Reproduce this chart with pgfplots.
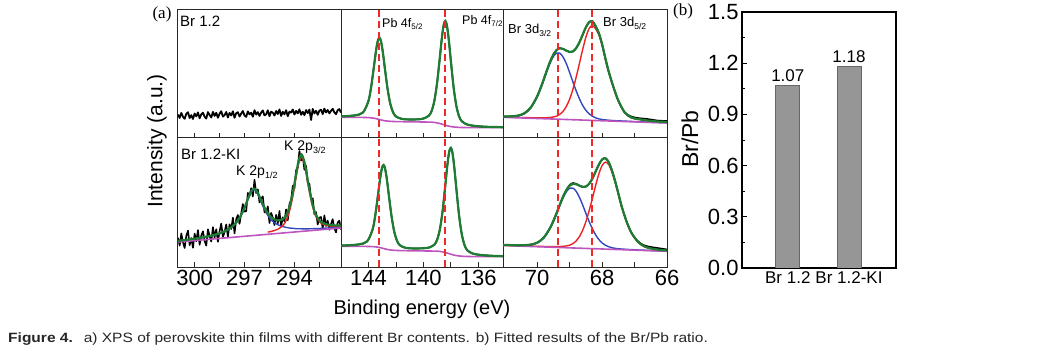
\documentclass[border=0pt]{standalone}
\usepackage{pgfplots}
\pgfplotsset{compat=1.18}
\usepackage{fontspec}
\setmainfont{Liberation Sans}
\newfontfamily\seriffont{Liberation Serif}
\newcommand\fs[1]{\fontsize{#1bp}{#1bp}\selectfont}
\newcommand\sub[2]{\raisebox{-0.45ex}{\fs{#1}#2}}
\definecolor{cgreen}{RGB}{30,125,50}
\definecolor{cred}{RGB}{235,35,35}
\definecolor{cblue}{RGB}{50,70,190}
\definecolor{cpurple}{RGB}{190,85,190}
\definecolor{cdash}{RGB}{240,40,40}
\definecolor{cbar}{RGB}{150,150,150}
\definecolor{cframe}{RGB}{40,40,40}
\pgfplotsset{
 /pgf/number format/assume math mode=true,
 xps/.style={scale only axis, x dir=reverse, ytick=\empty, xtick pos=left, tick align=inside,
   major tick length=5bp, minor tick length=5bp,
   axis line style={line width=1bp, draw=cframe}, tick style={line width=0.8bp, draw=cframe},
   ymin=0, xticklabel style={font=\fs{22}}},
 dat/.style={black, line width=1.6bp, line join=round},
 fit/.style={cgreen, line width=2.2bp, smooth},
 compr/.style={cred, line width=1.4bp, smooth},
 compb/.style={cblue, line width=1.4bp, smooth},
 bg/.style={cpurple, line width=1.6bp, smooth},
 vline/.style={draw=cdash, line width=1.8bp, dash pattern=on 7bp off 4bp},
}
\begin{document}
\begin{tikzpicture}
\useasboundingbox (0,0) rectangle (1043bp,354bp);
% ---------------- K 2p, top
\begin{axis}[xps, at={(178bp,216bp)}, anchor=south west, width=163bp, height=128bp,
  xmin=291.2, xmax=301, ymax=128, xtick={294,297,300}, minor xtick={292.5,295.5,298.5}, xticklabels={}]
\addplot[dat, line width=1.8bp] coordinates {(301.0,23.5)(300.9,20.1)(300.8,25.1)(300.7,21.2)(300.6,19.2)(300.5,24.3)(300.4,25.8)(300.3,19.9)(300.2,22.9)(300.1,19.0)(300.0,24.5)(299.9,21.6)(299.8,25.6)(299.7,19.7)(299.6,23.7)(299.5,25.3)(299.4,21.3)(299.3,19.4)(299.2,25.9)(299.1,23.0)(299.0,20.5)(298.9,26.1)(298.8,22.1)(298.7,25.2)(298.6,20.2)(298.5,24.3)(298.4,26.8)(298.3,21.4)(298.2,22.9)(298.1,26.0)(298.0,20.5)(297.9,25.1)(297.8,22.6)(297.7,26.7)(297.6,20.2)(297.5,24.8)(297.4,25.8)(297.3,21.4)(297.2,24.4)(297.1,27.0)(297.0,22.5)(296.9,21.1)(296.8,26.6)(296.7,23.7)(296.6,25.2)(296.5,21.3)(296.4,27.8)(296.3,23.4)(296.2,25.9)(296.1,22.0)(296.0,25.5)(295.9,27.6)(295.8,22.6)(295.7,23.7)(295.6,27.7)(295.5,21.8)(295.4,26.3)(295.3,25.4)(295.2,22.4)(295.1,27.0)(295.0,24.0)(294.9,28.6)(294.8,22.1)(294.7,26.2)(294.6,23.7)(294.5,27.8)(294.4,21.8)(294.3,26.4)(294.2,25.4)(294.1,28.5)(294.0,23.5)(293.9,27.1)(293.8,24.6)(293.7,28.7)(293.6,23.2)(293.5,26.3)(293.4,22.8)(293.3,27.9)(293.2,24.9)(293.1,28.5)(293.0,18.0)(292.9,29.1)(292.8,24.6)(292.7,27.2)(292.6,23.2)(292.5,27.3)(292.4,28.3)(292.3,23.9)(292.2,29.4)(292.1,25.5)(292.0,28.0)(291.9,24.6)(291.8,27.1)(291.7,29.2)(291.6,25.7)(291.5,23.8)(291.4,27.8)(291.3,28.9)(291.2,25.4)};
\end{axis}
% ---------------- K 2p, bottom
\begin{axis}[xps, at={(178bp,87bp)}, anchor=south west, width=163bp, height=129bp,
  xmin=291.2, xmax=301, ymax=129, xtick={294,297,300}, minor xtick={292.5,295.5,298.5}]
\addplot[dat] coordinates {(301.0,29.2)(300.9,21.4)(300.8,33.6)(300.7,24.8)(300.6,19.0)(300.5,31.2)(300.4,36.4)(300.3,21.8)(300.2,29.0)(300.1,19.2)(300.0,33.4)(299.9,25.7)(299.8,36.9)(299.7,22.2)(299.6,31.4)(299.5,35.7)(299.4,26.0)(299.3,21.4)(299.2,37.7)(299.1,31.1)(299.0,25.4)(298.9,39.9)(298.8,29.3)(298.7,37.8)(298.6,25.2)(298.5,35.7)(298.4,43.4)(298.3,30.0)(298.2,34.9)(298.1,42.6)(298.0,30.4)(297.9,42.7)(297.8,38.0)(297.7,49.3)(297.6,33.6)(297.5,47.8)(297.4,52.0)(297.3,43.2)(297.2,53.6)(297.1,63.0)(297.0,55.4)(296.9,55.8)(296.8,74.1)(296.7,71.0)(296.6,78.8)(296.5,70.5)(296.4,87.2)(296.3,73.9)(296.2,77.7)(296.1,64.5)(296.0,68.5)(295.9,70.6)(295.8,54.7)(295.7,54.6)(295.6,60.7)(295.5,43.9)(295.4,54.1)(295.3,49.5)(295.2,41.9)(295.1,52.2)(295.0,43.6)(294.9,56.0)(294.8,40.4)(294.7,49.7)(294.6,45.6)(294.5,57.6)(294.4,46.7)(294.3,62.9)(294.2,67.0)(294.1,81.1)(294.0,78.4)(293.9,96.7)(293.8,99.5)(293.7,116.0)(293.6,106.4)(293.5,110.5)(293.4,97.2)(293.3,101.1)(293.2,84.0)(293.1,83.2)(293.0,68.5)(292.9,68.7)(292.8,52.7)(292.7,54.8)(292.6,42.5)(292.5,49.4)(292.4,50.0)(292.3,38.4)(292.2,51.7)(292.1,41.0)(292.0,46.4)(291.9,37.2)(291.8,42.9)(291.7,47.8)(291.6,38.6)(291.5,34.6)(291.4,44.5)(291.3,46.4)(291.2,37.4)};
\addplot[compb] coordinates {(301,26.1)(300.5,27.0)(300,28.1)(299.5,29.4)(299,31.0)(298.5,33.3)(298,37.0)(297.6,42.1)(297.3,48.6)(297.0,58.6)(296.8,67.2)(296.6,74.8)(296.44,77.3)(296.3,75.7)(296.1,69.1)(295.9,61.0)(295.6,51.5)(295.3,45.6)(295.0,42.3)(294.7,40.4)(294.5,39.6)(294.3,39.0)(294.1,38.7)(293.9,38.3)(293.58,38.2)(293.1,38.2)(292.7,38.4)(292.4,38.6)(292.0,39.0)(291.6,39.4)(291.2,39.8)};
\addplot[compr] coordinates {(295.6,34.9)(295.3,36.0)(295.0,37.8)(294.7,41.3)(294.5,46.3)(294.3,55.5)(294.1,70.3)(293.9,89.5)(293.75,103.1)(293.58,110.0)(293.4,102.9)(293.25,89.5)(293.1,75.3)(292.9,60.0)(292.7,50.3)(292.4,43.7)(292.0,41.3)(291.6,40.6)(291.2,40.6)};
\addplot[bg] coordinates {(301,25)(291.2,39)};
\addplot[fit] coordinates {(301,26.2)(300.5,27.2)(300,28.4)(299.5,29.7)(299,31.4)(298.5,33.7)(298,37.4)(297.6,42.6)(297.3,49.2)(297.0,59.4)(296.8,68.1)(296.6,75.8)(296.44,78.4)(296.3,76.9)(296.1,70.5)(295.9,62.6)(295.6,53.7)(295.3,48.5)(295.0,46.6)(294.7,47.7)(294.5,51.6)(294.3,59.9)(294.1,74.1)(293.9,92.7)(293.75,106.0)(293.58,112.6)(293.4,105.2)(293.25,91.6)(293.1,77.2)(292.9,61.7)(292.7,51.8)(292.4,45.0)(292.0,42.4)(291.6,41.6)(291.2,41.4)};
\end{axis}
% ---------------- Pb 4f, top
\begin{axis}[xps, at={(341bp,216bp)}, anchor=south west, width=162bp, height=128bp,
  xmin=134.2, xmax=146, ymax=128, xtick={136,140,144}, minor xtick={138,142}, xticklabels={}]
\addplot[bg] coordinates {(146,20.7)(144.2,20.5)(143.6,19.8)(143.2,18.5)(142.8,17.2)(142.2,16.5)(141,16.2)(139.6,15.9)(139.2,15.6)(138.8,14.5)(138.4,12.8)(138.0,11.4)(137.4,10.6)(136.5,10.4)(134.2,10.3)};
\addplot[dat, smooth] coordinates {(146.0,21.6)(145.0,22.6)(144.4,25.5)(144.0,37.1)(143.8,51.4)(143.6,71.6)(143.5,82.2)(143.4,91.6)(143.3,98.1)(143.2,100.3)(143.1,97.5)(143.0,90.2)(142.9,80.2)(142.8,69.1)(142.6,48.4)(142.4,33.7)(142.2,25.5)(142.0,21.6)(141.6,19.2)(141.0,18.5)(140.4,18.7)(140.0,19.4)(139.6,22.3)(139.4,27.0)(139.2,37.1)(139.0,55.2)(138.8,80.6)(138.7,94.1)(138.6,106.0)(138.5,114.3)(138.4,117.1)(138.3,113.5)(138.2,104.3)(138.1,91.7)(138.0,77.4)(137.8,50.9)(137.6,32.2)(137.4,21.7)(137.2,16.7)(136.8,13.4)(136.2,12.0)(135.4,11.2)(134.2,10.8)};
\addplot[fit] coordinates {(146.0,21.6)(145.0,22.6)(144.4,25.5)(144.0,37.1)(143.8,51.4)(143.6,71.6)(143.5,82.2)(143.4,91.6)(143.3,98.1)(143.2,100.3)(143.1,97.5)(143.0,90.2)(142.9,80.2)(142.8,69.1)(142.6,48.4)(142.4,33.7)(142.2,25.5)(142.0,21.6)(141.6,19.2)(141.0,18.5)(140.4,18.7)(140.0,19.4)(139.6,22.3)(139.4,27.0)(139.2,37.1)(139.0,55.2)(138.8,80.6)(138.7,94.1)(138.6,106.0)(138.5,114.3)(138.4,117.1)(138.3,113.5)(138.2,104.3)(138.1,91.7)(138.0,77.4)(137.8,50.9)(137.6,32.2)(137.4,21.7)(137.2,16.7)(136.8,13.4)(136.2,12.0)(135.4,11.2)(134.2,10.8)};
\addplot[vline] coordinates {(138.4,0)(138.4,128)};
\addplot[vline] coordinates {(143.22,0)(143.22,64)(143.22,128)};
\end{axis}
% ---------------- Pb 4f, bottom
\begin{axis}[xps, at={(341bp,87bp)}, anchor=south west, width=162bp, height=129bp,
  xmin=134.2, xmax=146, ymax=129, xtick={136,140,144}, minor xtick={138,142}]
\addplot[bg] coordinates {(146,20.7)(143.9,20.5)(143.3,19.8)(142.9,18.5)(142.5,17.2)(141.9,16.5)(140.7,16.2)(139.2,15.9)(138.8,15.6)(138.4,14.5)(138.0,12.8)(137.6,11.4)(137.0,10.6)(136.1,10.4)(134.2,10.3)};
\addplot[dat, smooth] coordinates {(146.0,21.5)(145.7,21.6)(144.7,22.6)(144.1,25.6)(143.7,37.5)(143.5,52.0)(143.3,72.6)(143.2,83.4)(143.1,93.0)(143.0,99.7)(142.9,102.0)(142.8,99.1)(142.7,91.6)(142.6,81.4)(142.5,70.1)(142.3,49.0)(142.1,34.0)(141.9,25.6)(141.7,21.6)(141.3,19.2)(140.7,18.5)(140.1,18.7)(139.6,19.4)(139.2,22.3)(139.0,27.2)(138.8,37.5)(138.6,56.0)(138.4,82.0)(138.3,95.8)(138.2,108.0)(138.1,116.4)(138.0,119.2)(137.9,115.5)(137.8,106.1)(137.7,93.2)(137.6,78.6)(137.4,51.6)(137.2,32.6)(137.0,21.8)(136.8,16.7)(136.4,13.4)(135.8,12.0)(135.0,11.2)(134.2,10.8)};
\addplot[fit] coordinates {(146.0,21.5)(145.7,21.6)(144.7,22.6)(144.1,25.6)(143.7,37.5)(143.5,52.0)(143.3,72.6)(143.2,83.4)(143.1,93.0)(143.0,99.7)(142.9,102.0)(142.8,99.1)(142.7,91.6)(142.6,81.4)(142.5,70.1)(142.3,49.0)(142.1,34.0)(141.9,25.6)(141.7,21.6)(141.3,19.2)(140.7,18.5)(140.1,18.7)(139.6,19.4)(139.2,22.3)(139.0,27.2)(138.8,37.5)(138.6,56.0)(138.4,82.0)(138.3,95.8)(138.2,108.0)(138.1,116.4)(138.0,119.2)(137.9,115.5)(137.8,106.1)(137.7,93.2)(137.6,78.6)(137.4,51.6)(137.2,32.6)(137.0,21.8)(136.8,16.7)(136.4,13.4)(135.8,12.0)(135.0,11.2)(134.2,10.8)};
\addplot[vline] coordinates {(138.4,0)(138.4,129)};
\addplot[vline] coordinates {(143.22,0)(143.22,64)(143.22,129)};
\end{axis}
% ---------------- Br 3d, top
\begin{axis}[xps, at={(503bp,216bp)}, anchor=south west, width=164bp, height=128bp,
  xmin=66, xmax=71.05, ymax=128, xtick={66,68,70}, minor xtick={67,69}, xticklabels={}]
\addplot[compb] coordinates {(71.05,21.3)(70.8,21.3)(70.6,21.9)(70.4,24.1)(70.2,29.8)(70.0,40.9)(69.85,52.9)(69.7,66.5)(69.6,74.9)(69.5,81.4)(69.4,84.9)(69.3,84.8)(69.2,81.0)(69.1,74.3)(69.0,65.7)(68.9,56.4)(68.8,47.4)(68.7,39.5)(68.6,32.8)(68.5,27.8)(68.4,24.2)(68.3,21.8)(68.2,20.2)(68.1,19.1)(68.0,18.5)(67.9,18.1)(67.8,17.8)(67.65,17.4)(67.5,17.2)(67.3,16.9)(67.1,16.6)(66.9,16.3)(66.6,15.9)(66.3,15.5)(66.0,15.2)};
\addplot[compr] coordinates {(71.05,21.0)(70.8,20.7)(70.6,20.6)(70.4,20.4)(70.2,20.3)(70.0,20.2)(69.85,20.2)(69.7,20.3)(69.6,20.5)(69.5,21.0)(69.4,21.8)(69.3,23.7)(69.2,26.7)(69.1,31.6)(69.0,38.7)(68.9,48.4)(68.8,60.5)(68.7,74.1)(68.6,88.1)(68.5,100.6)(68.4,109.3)(68.3,112.6)(68.2,109.3)(68.1,103.3)(68.0,92.8)(67.9,79.1)(67.8,66.3)(67.65,50.5)(67.5,37.0)(67.3,25.1)(67.1,20.2)(66.9,18.7)(66.6,17.3)(66.3,16.3)(66.0,15.8)};
\addplot[bg] coordinates {(71.05,20.7)(66,15.0)};
\addplot[dat, smooth] coordinates {(71.05,21.5)(70.8,21.7)(70.6,22.3)(70.4,24.6)(70.2,30.3)(70.0,41.6)(69.85,53.7)(69.7,67.6)(69.6,76.3)(69.5,83.4)(69.4,87.9)(69.3,89.8)(69.2,89.1)(69.1,87.4)(69.0,86.0)(68.9,86.5)(68.8,89.7)(68.7,95.5)(68.6,103.0)(68.5,110.6)(68.4,115.8)(68.3,116.8)(68.2,112.0)(68.1,105.0)(68.0,94.0)(67.9,80.0)(67.8,67.0)(67.65,51.0)(67.5,37.5)(67.3,25.5)(67.1,21.5)(66.9,20.0)(66.6,19.0)(66.3,17.5)(66.0,17.0)};
\addplot[fit] coordinates {(71.05,21.5)(70.8,21.7)(70.6,22.3)(70.4,24.6)(70.2,30.3)(70.0,41.6)(69.85,53.7)(69.7,67.6)(69.6,76.3)(69.5,83.4)(69.4,87.9)(69.3,89.8)(69.2,89.1)(69.1,87.4)(69.0,86.0)(68.9,86.5)(68.8,89.7)(68.7,95.5)(68.6,103.0)(68.5,110.6)(68.4,115.8)(68.3,116.8)(68.2,112.0)(68.1,105.0)(68.0,94.0)(67.9,80.0)(67.8,67.0)(67.65,51.0)(67.5,37.5)(67.3,25.5)(67.1,20.5)(66.9,19.0)(66.6,17.5)(66.3,16.5)(66.0,16.0)};
\addplot[vline] coordinates {(69.35,0)(69.35,128)};
\addplot[vline] coordinates {(68.3,0)(68.3,128)};
\end{axis}
% ---------------- Br 3d, bottom
\begin{axis}[xps, at={(503bp,87bp)}, anchor=south west, width=164bp, height=129bp,
  xmin=66, xmax=71.05, ymax=129, xtick={66,68,70}, minor xtick={67,69}]
\addplot[compb] coordinates {(71.05,21.8)(70.85,21.7)(70.64,21.55)(70.39,21.58)(70.19,22.09)(69.99,24.04)(69.79,29.10)(69.59,39.18)(69.44,49.94)(69.29,62.24)(69.19,69.81)(69.09,75.66)(68.99,78.89)(68.89,78.77)(68.79,75.32)(68.69,69.23)(68.59,61.44)(68.49,53.0)(68.39,44.85)(68.29,37.68)(68.19,31.69)(68.09,27.14)(67.99,23.87)(67.89,21.62)(67.79,20.20)(67.69,19.21)(67.59,18.61)(67.49,18.24)(67.39,17.97)(67.24,17.64)(67.09,17.37)(66.89,17.06)(66.69,16.79)(66.49,16.50)(66.19,16.12)(65.89,15.72)};
\addplot[compr] coordinates {(71.05,21.7)(70.85,21.5)(70.64,21.28)(70.39,21.03)(70.19,20.86)(69.99,20.71)(69.79,20.55)(69.59,20.43)(69.44,20.41)(69.29,20.51)(69.19,20.68)(69.09,21.08)(68.99,21.89)(68.89,23.55)(68.79,26.33)(68.69,30.79)(68.59,37.27)(68.49,46.13)(68.39,57.20)(68.29,69.63)(68.19,82.52)(68.09,93.94)(67.99,101.90)(67.89,104.89)(67.79,102.1)(67.69,94.4)(67.59,83.9)(67.49,71.7)(67.39,59.3)(67.24,44.5)(67.09,33.6)(66.89,24.7)(66.69,20.2)(66.49,18.3)(66.19,16.8)(65.89,16.2)};
\addplot[bg] coordinates {(71.05,21.5)(65.9,15.6)};
\addplot[dat, smooth] coordinates {(71.05,22.0)(70.85,21.9)(70.64,21.79)(70.39,21.86)(70.19,22.43)(69.99,24.46)(69.79,29.59)(69.59,39.78)(69.44,50.69)(69.29,63.27)(69.19,71.12)(69.09,77.49)(68.99,82.2)(68.89,84.0)(68.79,83.2)(68.69,81.23)(68.59,80.03)(68.49,80.57)(68.39,83.60)(68.29,88.98)(68.19,95.99)(68.09,102.98)(67.99,107.78)(67.89,108.64)(67.79,104.5)(67.69,96.0)(67.59,85.0)(67.49,72.5)(67.39,60.0)(67.24,45.0)(67.09,34.0)(66.89,25.5)(66.69,21.5)(66.49,20.0)(66.19,18.5)(65.89,17.0)};
\addplot[fit] coordinates {(71.05,22.0)(70.85,21.9)(70.64,21.79)(70.39,21.86)(70.19,22.43)(69.99,24.46)(69.79,29.59)(69.59,39.78)(69.44,50.69)(69.29,63.27)(69.19,71.12)(69.09,77.49)(68.99,81.64)(68.89,83.30)(68.79,82.74)(68.69,81.23)(68.59,80.03)(68.49,80.57)(68.39,83.60)(68.29,88.98)(68.19,95.99)(68.09,102.98)(67.99,107.78)(67.89,108.64)(67.79,104.5)(67.69,96.0)(67.59,85.0)(67.49,72.5)(67.39,60.0)(67.24,45.0)(67.09,34.0)(66.89,25.0)(66.69,20.5)(66.49,18.5)(66.19,17.0)(65.89,16.3)};
\addplot[vline] coordinates {(69.35,0)(69.35,129)};
\addplot[vline] coordinates {(68.3,0)(68.3,129)};
\end{axis}
% ---------------- (b) bar chart
\begin{axis}[at={(742bp,86bp)}, anchor=south west, scale only axis, width=154bp, height=256bp,
  xmin=0.252, xmax=2.768, ymin=0, ymax=1.5,
  ytick={0,0.3,0.6,0.9,1.2,1.5}, minor ytick={0.15,0.45,0.75,1.05,1.35},
  ytick pos=left, tick align=inside, major tick length=5bp, minor tick length=3bp,
  xtick={1,2}, xticklabels={Br 1.2, Br 1.2-KI}, x tick style={draw=none},
  axis line style={line width=1.2bp, draw=black}, tick style={line width=0.8bp, draw=black},
  yticklabel style={font=\fs{22}, /pgf/number format/.cd, fixed, fixed zerofill, precision=1},
  xticklabel style={font=\fs{17}}]
\addplot[ybar, bar width=24bp, fill=cbar, draw=black!60, line width=0.8bp,
  nodes near coords, nodes near coords style={font=\fs{17}, /pgf/number format/.cd, fixed, fixed zerofill, precision=2}]
  coordinates {(1,1.07) (2,1.18)};
\end{axis}
% ---------------- texts
\node[font=\seriffont\fs{17}] at (162bp,340bp) {(a)};
\node[font=\seriffont\fs{17}] at (683bp,343bp) {(b)};
\node[font=\fs{21}, rotate=90] at (157bp,213bp) {Intensity (a.u.)};
\node[font=\fs{20}] at (422bp,45bp) {Binding energy (eV)};
\node[font=\fs{23}, rotate=90] at (690bp,215bp) {Br/Pb};
\node[font=\fs{15}, anchor=west, inner sep=0pt] at (180bp,333bp) {Br 1.2};
\node[font=\fs{15}, anchor=west, inner sep=0pt] at (181bp,199.5bp) {Br 1.2-KI};
\node[font=\fs{14}, anchor=west, inner sep=0pt] at (236bp,182bp) {K 2p\sub{9}{1/2}};
\node[font=\fs{14}, anchor=west, inner sep=0pt] at (284bp,207bp) {K 2p\sub{9}{3/2}};
\node[font=\fs{12.5}, anchor=west, inner sep=0pt] at (382bp,330bp) {Pb 4f\sub{8}{5/2}};
\node[font=\fs{12.5}, anchor=west, inner sep=0pt] at (462bp,333bp) {Pb 4f\sub{8}{7/2}};
\node[font=\fs{13}, anchor=west, inner sep=0pt] at (508bp,324bp) {Br 3d\sub{8.5}{3/2}};
\node[font=\fs{13}, anchor=west, inner sep=0pt] at (603bp,331bp) {Br 3d\sub{8.5}{5/2}};
\node[anchor=west, inner sep=0pt, text=black!85] at (8bp,15bp) {\scalebox{1.15}[1]{\fs{13.5}\textbf{Figure 4.}\hspace{0.7em}a) XPS of perovskite thin films with different Br contents. b) Fitted results of the Br/Pb ratio.}};
\end{tikzpicture}
\end{document}
